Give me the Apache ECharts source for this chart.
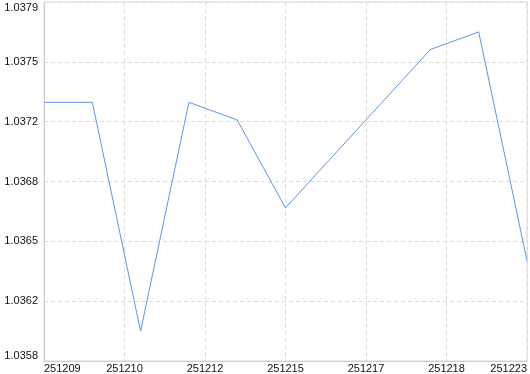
<!DOCTYPE html>
<html>
<head>
<meta charset="utf-8">
<script src="https://cdn.jsdelivr.net/npm/echarts@6/dist/echarts.min.js"></script>
<style>
html,body{margin:0;padding:0;background:#fff;}
#chart{width:530px;height:374px;}
</style>
</head>
<body>
<div id="chart"></div>
<script>
// Series values (one point per trading day, 11 points)
var values = [1.0373, 1.0373, 1.0360, 1.0373, 1.0372, 1.0367, 1.0370, 1.0373, 1.0376, 1.0377, 1.0364];
// X tick labels (6 equal divisions of the time span)
var xTickLabels = ['251209', '251210', '251212', '251215', '251217', '251218', '251223'];
// Y tick labels (6 equal divisions of the value span)
var yTickLabels = ['1.0358', '1.0362', '1.0365', '1.0368', '1.0372', '1.0375', '1.0379'];

var yMin = 1.03583, yMax = 1.03787;
var yDiv = yTickLabels.length - 1;
var yStep = (yMax - yMin) / yDiv;
var yTicks = yTickLabels.map(function (_, k) { return yMin + k * yStep; });

var xDiv = xTickLabels.length - 1;         // 6 divisions
var xSpan = 60;                             // 0..60 so that ticks fall on integers
var xStep = xSpan / (values.length - 1);    // 6 units per point
var seriesData = values.map(function (v, i) { return [i * xStep, v]; });

var chart = echarts.init(document.getElementById('chart'), null, {renderer: 'canvas'});
var font = 'Liberation Sans';
chart.setOption({
  animation: false,
  backgroundColor: '#fff',
  grid: {left: 44, right: 2, top: 2, bottom: 13, containLabel: false,
         show: true, borderColor: '#d9d9d9', borderWidth: 1, backgroundColor: 'transparent'},
  xAxis: {
    type: 'value',
    min: 0, max: xSpan, interval: xSpan / xDiv,
    axisLine: {show: true, lineStyle: {color: '#cfcfcf', width: 1}},
    axisTick: {show: false},
    splitLine: {show: true, lineStyle: {color: '#dcdcdc', type: [4, 3], width: 1}},
    axisLabel: {
      color: '#111', fontFamily: font, fontSize: 11, margin: 2,
      alignMinLabel: 'left', alignMaxLabel: 'right',
      formatter: function (v) { return xTickLabels[Math.round(v / (xSpan / xDiv))]; }
    }
  },
  yAxis: {
    type: 'value',
    min: yMin, max: yMax,
    axisLine: {show: true, lineStyle: {color: '#cfcfcf', width: 1}},
    axisTick: {show: false, customValues: yTicks},
    splitLine: {show: true, lineStyle: {color: '#dcdcdc', type: [4, 3], width: 1}},
    axisLabel: {
      color: '#111', fontFamily: font, fontSize: 11, margin: 6,
      customValues: yTicks,
      verticalAlignMinLabel: 'bottom', verticalAlignMaxLabel: 'top',
      formatter: function (v) { return yTickLabels[Math.round((v - yMin) / yStep)]; }
    }
  },
  series: [{
    type: 'line',
    data: seriesData,
    symbol: 'none',
    lineStyle: {color: '#5b97e6', width: 1}
  }]
});
</script>
</body>
</html>
